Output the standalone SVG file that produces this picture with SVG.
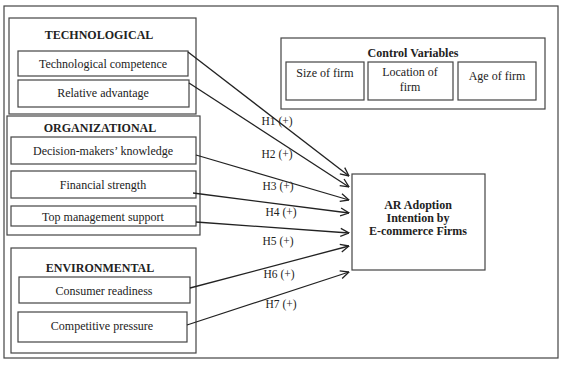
<svg xmlns="http://www.w3.org/2000/svg" width="567" height="369" viewBox="0 0 567 369">
<style>
text{font-family:"Liberation Serif","Times New Roman",serif;font-size:12px;fill:#222;text-anchor:middle}
.b{font-weight:bold}
.box{fill:none;stroke:#444;stroke-width:1.2}
.con{fill:none;stroke:#222;stroke-width:1.3;marker-end:url(#ah)}
.lbl{font-size:11.5px}
</style>
<defs>
<marker id="ah" viewBox="0 0 10 10" refX="9.5" refY="5" markerWidth="10" markerHeight="10" markerUnits="userSpaceOnUse" orient="auto">
<path d="M1,1 L9.5,5 L1,9" fill="none" stroke="#222" stroke-width="1.3"/>
</marker>
</defs>
<rect width="567" height="369" fill="#fff"/>
<rect class="box" x="4" y="6" width="554" height="352"/>
<g id="technological">
<rect class="box" x="9" y="18" width="187" height="96"/>
<text class="b" x="99" y="39">TECHNOLOGICAL</text>
</g>
<g id="tech-competence">
<rect class="box" x="18" y="51" width="170" height="25"/>
<text x="103" y="68">Technological competence</text>
</g>
<g id="relative-advantage">
<rect class="box" x="18" y="80" width="171" height="27"/>
<text x="103" y="97">Relative advantage</text>
</g>
<g id="organizational">
<rect class="box" x="7" y="116" width="193" height="119"/>
<text class="b" x="100" y="132">ORGANIZATIONAL</text>
</g>
<g id="decision-makers">
<rect class="box" x="11" y="137" width="185" height="27"/>
<text x="103" y="155">Decision-makers’ knowledge</text>
</g>
<g id="financial-strength">
<rect class="box" x="11" y="171" width="185" height="27"/>
<text x="103" y="189">Financial strength</text>
</g>
<g id="top-management">
<rect class="box" x="11" y="206" width="185" height="20"/>
<text x="103" y="221">Top management support</text>
</g>
<g id="environmental">
<rect class="box" x="11" y="248" width="185" height="105"/>
<text class="b" x="100" y="272">ENVIRONMENTAL</text>
</g>
<g id="consumer-readiness">
<rect class="box" x="19" y="277" width="171" height="26"/>
<text x="104" y="295">Consumer readiness</text>
</g>
<g id="competitive-pressure">
<rect class="box" x="18" y="312" width="169" height="30"/>
<text x="102" y="330">Competitive pressure</text>
</g>
<g id="control-variables">
<rect class="box" x="281" y="38" width="264" height="71" stroke-width="1.5"/>
<text class="b" x="413" y="57">Control Variables</text>
</g>
<g id="size-of-firm">
<rect class="box" x="286" y="62" width="78" height="38"/>
<text x="325" y="77">Size of firm</text>
</g>
<g id="location-of-firm">
<rect class="box" x="368" y="62" width="85" height="38"/>
<text x="410" y="76">Location of</text>
<text x="410" y="91">firm</text>
</g>
<g id="age-of-firm">
<rect class="box" x="458" y="62" width="78" height="38"/>
<text x="497" y="80">Age of firm</text>
</g>
<g id="ar-adoption">
<rect class="box" x="352" y="174" width="133" height="96"/>
<text class="b" x="418" y="209">AR Adoption</text>
<text class="b" x="418" y="222">Intention by</text>
<text class="b" x="418" y="235">E-commerce Firms</text>
</g>
<g id="connectors">
<path class="con" d="M188,52 L349,176"/>
<path class="con" d="M189,83 L349,187"/>
<path class="con" d="M196,155 L349,200"/>
<path class="con" d="M193,193 L349,213"/>
<path class="con" d="M196,222 L349,233"/>
<path class="con" d="M190,288 L349,246"/>
<path class="con" d="M187,325 L349,272"/>
<text class="lbl" x="277" y="125">H1 (+)</text>
<text class="lbl" x="277" y="158">H2 (+)</text>
<text class="lbl" x="278" y="190">H3 (+)</text>
<text class="lbl" x="281" y="216">H4 (+)</text>
<text class="lbl" x="278" y="245">H5 (+)</text>
<text class="lbl" x="279" y="278">H6 (+)</text>
<text class="lbl" x="281" y="308">H7 (+)</text>
</g>
</svg>
